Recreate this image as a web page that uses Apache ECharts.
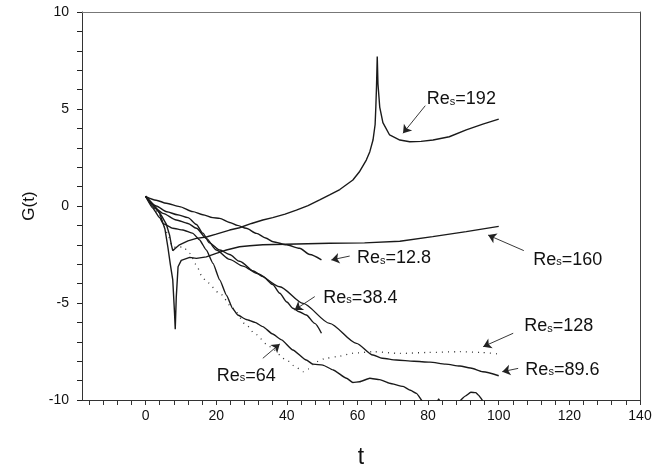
<!DOCTYPE html>
<html>
<head>
<meta charset="utf-8">
<script src="https://cdn.jsdelivr.net/npm/echarts@6/dist/echarts.min.js"></script>
<style>html,body{margin:0;padding:0;background:#fff}#c{width:669px;height:470px}</style>
</head>
<body>
<div id="c"></div>
<script>
// ---- data ----
const xTickValues = [-16,-12,-8,-4,0,4,8,12,16,20,24,28,32,36,40,44,48,52,56,60,64,68,72,76,80,84,88,92,96,100,104,108,112,116,120,124,128,132,136,140];
const xLabelValues = [0,20,40,60,80,100,120,140];
const yTickValues = [-10,-9,-8,-7,-6,-5,-4,-3,-2,-1,0,1,2,3,4,5,6,7,8,9,10];
const yLabelValues = [-10,-5,0,5,10];

const t12_8 = [0,3,5.9,9.6,13.4,16.2,19,21,23.8,26,28.5,31.4,34,36.1,39.9,43.6,46.5,49.8];
const g12_8 = [0.5,0.3,0.14,-0.03,-0.29,-0.45,-0.6,-0.64,-0.85,-1.0,-1.15,-1.41,-1.65,-1.84,-2.0,-2.18,-2.5,-2.78];

const t38_4 = [0,3,4.9,8.7,12,14.4,17.2,20,23.8,27.6,30.5,33.2,36,38,40,41.7,43.5,45.5,47.9,49.8];
const g38_4 = [0.5,-0.15,-0.38,-0.72,-0.9,-1.15,-1.67,-2.27,-2.75,-3.1,-3.35,-3.64,-4.05,-4.5,-4.95,-5.27,-5.45,-5.62,-6.05,-6.56];

const t64 = [0,2,4,4.9,7.7,10.6,13.4,15.3,17.2,19.1,21,22.9,24.7,26.1,28.5,31,33.2,36,38.5,41.7,45.5,47.4,50.2,53.1,56.9,58.7,60.6,63.5,66.3,69.1,72.9,75,76.7,78.6,80,82,83,84,86,88.9,90.5,92.1,93.5,94.2,95.8,97];
const g64 = [0.5,-0.1,-0.6,-0.9,-1.15,-1.24,-1.41,-1.75,-2.27,-2.96,-3.81,-4.6,-5.3,-5.62,-5.85,-6.0,-6.22,-6.6,-6.9,-7.42,-7.94,-8.15,-8.2,-8.45,-8.88,-9.1,-9.06,-8.88,-8.95,-9.14,-9.3,-9.5,-9.66,-10.1,-10.4,-10.3,-9.95,-10.3,-10.5,-10.05,-9.8,-9.6,-9.62,-9.74,-10.1,-10.4];

const t89_6 = [0,3,6,9,12,14.4,16.2,18.1,21,23.8,26.6,31.4,38,44.6,52.1,59.7,64.4,67,71,76,80.5,85,89,92,95.5,100];
const g89_6 = [0.5,0.0,-0.3,-0.45,-0.6,-0.95,-1.4,-1.9,-2.27,-2.5,-2.85,-3.47,-4.16,-5.02,-6.05,-7.08,-7.68,-7.85,-7.94,-8.0,-8.05,-8.15,-8.25,-8.35,-8.54,-8.75];

const t128 = [0,2,4,5.5,6.3,7.7,9,10.6,12.5,14.4,15.8,17.2,21,24.7,28.5,31,35.1,39.9,42.5,44.6,46,48.4,51,54,58.7,64.4,72,80,89,95,100];
const g128 = [0.5,0.05,-0.5,-1.1,-1.5,-2.1,-2.15,-2.1,-2.44,-3.04,-3.56,-3.9,-4.5,-5.27,-6.13,-6.6,-7.25,-7.94,-8.3,-8.54,-8.4,-8.02,-7.85,-7.77,-7.59,-7.51,-7.6,-7.55,-7.51,-7.55,-7.63];

const t160 = [0,2,4,5.5,6.3,7.0,7.7,8.2,8.4,8.7,9.2,10.1,12.5,14.4,17.2,20,22.9,26.6,29.5,33.2,42.7,52.1,62,72,81.3,90.8,100];
const g160 = [0.5,0.1,-0.38,-1.2,-2.1,-3.0,-3.81,-5.53,-6.35,-4.67,-3.13,-2.8,-2.65,-2.7,-2.62,-2.44,-2.27,-2.1,-2.05,-2.0,-1.96,-1.92,-1.9,-1.82,-1.58,-1.32,-1.05];

const t192 = [0,1.5,3,4.5,5.9,6.8,7.3,7.7,8.3,9.6,12,14.4,17.2,20,23.8,26.6,30,33.2,36,39.5,42.7,46,49.3,52.1,55,58.7,60.5,62.5,63.5,64.4,65,65.2,65.4,65.6,65.8,66.3,67.2,69.1,72,74.8,78,81.4,86,90.8,95.5,100];
const g192 = [0.5,0.2,-0.1,-0.5,-0.95,-1.5,-2.0,-2.3,-2.2,-2.0,-1.8,-1.67,-1.6,-1.45,-1.24,-1.12,-0.9,-0.72,-0.6,-0.42,-0.21,0.02,0.31,0.57,0.85,1.34,1.75,2.37,2.8,3.4,4.2,5.1,6.2,7.7,6.3,5.1,4.3,3.66,3.4,3.31,3.33,3.4,3.57,3.92,4.22,4.48];

// annotation labels: text, label anchor (left edge, middle), arrow tail, arrow head
const annTexts = ['192','160','128','89.6','12.8','38.4','64'];
const annAt    = [[79.5,5.5],[109.6,-2.76],[107.1,-6.19],[107.4,-8.43],[59.7,-2.7],[50.2,-4.72],[20,-8.74]];
const annFrom  = [[79.2,5.17],[107.1,-2.3],[104.1,-6.56],[105.5,-8.37],[57.8,-2.58],[47.9,-4.67],[33.2,-7.85]];
const annTo    = [[72.9,3.75],[97,-1.5],[95.6,-7.25],[101,-8.54],[52.6,-2.78],[42.2,-5.36],[38,-7.11]];

// ---- build chart ----
const zip = (a, b) => a.map((v, i) => [v, b[i]]);
const FONT = '"Liberation Sans", Arial, sans-serif';
const lineColor = '#1a1a1a';

function lineSeries(name, t, g, opts) {
  return Object.assign({
    name, type: 'line', data: zip(t, g), showSymbol: false, symbol: 'none',
    smooth: 0.25, smoothMonotone: 'x', clip: true, silent: true, animation: false,
    lineStyle: { color: lineColor, width: 1.4 }
  }, opts || {});
}

const series = [
  lineSeries('Res=12.8', t12_8, g12_8),
  lineSeries('Res=38.4', t38_4, g38_4),
  lineSeries('Res=64', t64, g64, { smooth: 0.15 }),
  lineSeries('Res=89.6', t89_6, g89_6),
  lineSeries('Res=128', t128, g128, { lineStyle: { color: '#333', width: 1.3, type: [1, 5] } }),
  lineSeries('Res=160', t160, g160, { smooth: false }),
  lineSeries('Res=192', t192, g192, { smooth: false })
];

series.push({
  name: 'annotations', type: 'line', data: [], silent: true, animation: false,
  markLine: {
    silent: true, animation: false, symbol: ['none', 'arrow'], symbolSize: 8,
    label: { show: false },
    lineStyle: { color: '#222', width: 0.9, type: 'solid' },
    data: annFrom.map((f, i) => [{ coord: f, symbol: 'none' }, { coord: annTo[i], symbol: 'arrow', symbolSize: 8 }])
  },
  markPoint: {
    silent: true, animation: false, symbol: 'circle', symbolSize: 1,
    itemStyle: { color: 'rgba(0,0,0,0)' },
    label: {
      show: true, position: 'right', distance: 0, color: '#111',
      formatter: p => '{a|Re}{b|s}{a|=' + p.name + '}',
      rich: {
        a: { fontSize: 18, fontFamily: FONT, color: '#111' },
        b: { fontSize: 11, fontFamily: FONT, color: '#111', verticalAlign: 'bottom', padding: [0, 0, 1, 0] }
      }
    },
    data: annAt.map((c, i) => ({ name: annTexts[i], coord: c }))
  }
});

const frameAxis = { type: 'value', axisLine: { show: true, onZero: false, lineStyle: { color: '#777', width: 1 } },
  axisTick: { show: false }, axisLabel: { show: false }, splitLine: { show: false } };

const chart = echarts.init(document.getElementById('c'), null, { renderer: 'canvas' });
chart.setOption({
  animation: false,
  backgroundColor: '#fff',
  grid: { left: 82, right: 29, top: 12, bottom: 70, show: false, containLabel: false, outerBoundsMode: 'none' },
  xAxis: [{
    type: 'value', min: -18, max: 140, position: 'bottom',
    name: 't', nameLocation: 'middle', nameGap: 46,
    nameTextStyle: { fontSize: 23, fontFamily: FONT, color: '#111' },
    axisLine: { show: true, onZero: false, lineStyle: { color: '#333', width: 1 } },
    axisTick: { show: true, inside: false, length: 5, customValues: xTickValues, lineStyle: { color: '#333' } },
    axisLabel: { show: true, margin: 9, customValues: xLabelValues, fontSize: 14, fontFamily: FONT, color: '#111' },
    splitLine: { show: false }
  }, Object.assign({ min: -18, max: 140, position: 'top' }, frameAxis)],
  yAxis: [{
    type: 'value', min: -10, max: 10, position: 'left',
    name: 'G(t)', nameLocation: 'middle', nameGap: 34, nameRotate: 90,
    nameTextStyle: { fontSize: 17, fontFamily: FONT, color: '#111' },
    axisLine: { show: true, onZero: false, lineStyle: { color: '#333', width: 1 } },
    axisTick: { show: true, inside: false, length: 5, customValues: yTickValues, lineStyle: { color: '#222', width: 1 } },
    axisLabel: { show: true, margin: 13, customValues: yLabelValues, fontSize: 14, fontFamily: FONT, color: '#111' },
    splitLine: { show: false }
  }, Object.assign({ min: -10, max: 10, position: 'right' }, frameAxis, { axisLine: { show: true, onZero: false, lineStyle: { color: '#444', width: 1 } } })],
  series
});
</script>
</body>
</html>
